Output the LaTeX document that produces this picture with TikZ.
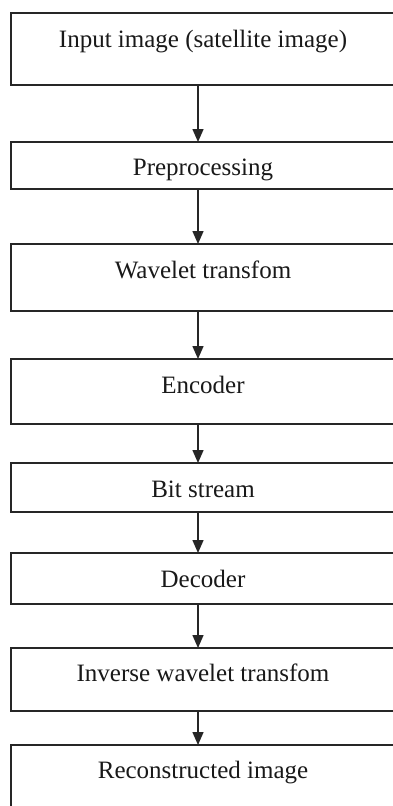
\documentclass[tikz,border=0pt]{standalone}
\usepackage{fontspec}
\setmainfont{Liberation Serif}
\usetikzlibrary{arrows.meta}
\begin{document}
\begin{tikzpicture}[x=1pt,y=-1pt,
  stagebox/.style={draw=black!85, line width=1.3pt, rectangle, inner sep=0pt, outer sep=0pt, minimum width=384pt},
  stagetext/.style={anchor=base, inner sep=0pt, text=black!90, font=\fontsize{25}{30}\selectfont},
  flowarrow/.style={draw=black!85, line width=1.4pt, -{Triangle[width=11pt,length=13pt]}}]
\clip (0,0) rectangle (393,806);
\fill[white] (0,0) rectangle (393,806);
\coordinate (ax) at (198,0);
\node[stagebox, minimum height=72pt] (b1) at (203,49) {};
\node[stagebox, minimum height=47pt] (b2) at (203,165.5) {};
\node[stagebox, minimum height=67pt] (b3) at (203,277.5) {};
\node[stagebox, minimum height=65pt] (b4) at (203,391.5) {};
\node[stagebox, minimum height=49pt] (b5) at (203,487.5) {};
\node[stagebox, minimum height=51pt] (b6) at (203,578.5) {};
\node[stagebox, minimum height=63pt] (b7) at (203,679.5) {};
\node[stagebox, minimum height=85pt] (b8) at (203,787.5) {};
\node[stagetext] (t1) at (203,47) {Input image (satellite image)};
\node[stagetext] (t2) at (203,175) {Preprocessing};
\node[stagetext] (t3) at (203,278) {Wavelet transfom};
\node[stagetext] (t4) at (203,393) {Encoder};
\node[stagetext] (t5) at (203,497) {Bit stream};
\node[stagetext] (t6) at (203,587) {Decoder};
\node[stagetext] (t7) at (203,681) {Inverse wavelet transfom};
\node[stagetext] (t8) at (203,778) {Reconstructed image};
\foreach \a/\b in {b1/b2,b2/b3,b3/b4,b4/b5,b5/b6,b6/b7,b7/b8}
  \draw[flowarrow] (\a.south -| ax) -- (\b.north -| ax);
\end{tikzpicture}
\end{document}
